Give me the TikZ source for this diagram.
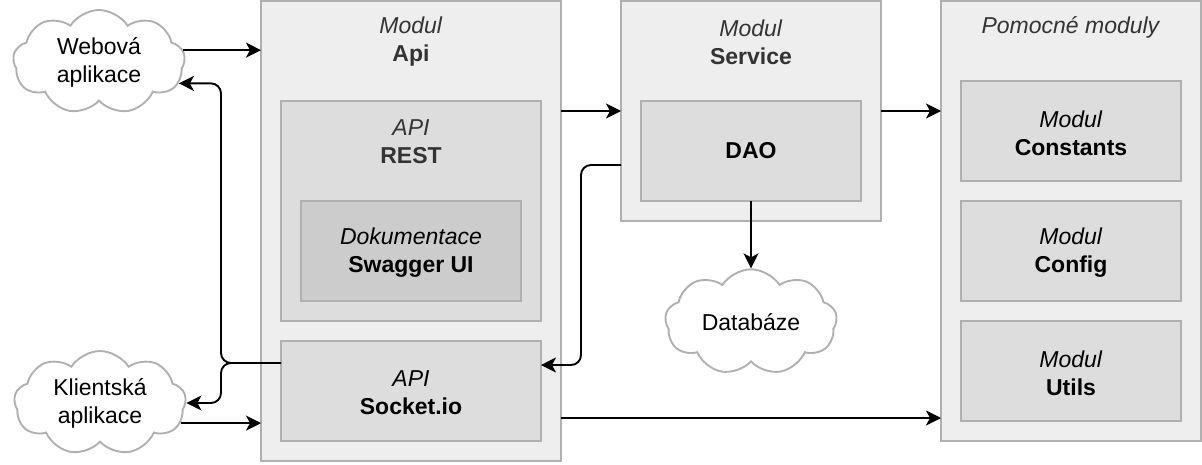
\documentclass[tikz,border=0pt]{standalone}
\usepackage{fontspec}
\setmainfont{Liberation Sans}
\usetikzlibrary{shapes.symbols,arrows.meta,calc}
\definecolor{modfill}{HTML}{EEEEEE}
\definecolor{subfill}{HTML}{DDDDDD}
\definecolor{subsubfill}{HTML}{CCCCCC}
\definecolor{edgegray}{HTML}{B0B0B0}
\definecolor{txtgray}{HTML}{333333}
\begin{document}
\begin{tikzpicture}[x=1pt,y=-1pt,
  boxbase/.style={draw=edgegray, line width=1.9pt, rectangle, inner sep=0pt, outer sep=0pt},
  modbox/.style={boxbase, fill=modfill},
  subbox/.style={boxbase, fill=subfill},
  subsubbox/.style={boxbase, fill=subsubfill},
  lbl/.style={font=\fontsize{23}{28}\selectfont, align=center, inner sep=0pt},
  glbl/.style={lbl, text=txtgray},
  conn/.style={line width=1.9pt, -{Stealth[length=15pt,width=15pt,inset=4pt]}, rounded corners=10pt},
  cloudnode/.style={cloud, cloud puffs=9, cloud puff arc=115, aspect=1.65, draw=edgegray, fill=white,
     line width=1.9pt, minimum width=172pt, minimum height=104pt, inner sep=0pt,
     font=\fontsize{23}{28}\selectfont, align=center}
]
\useasboundingbox (0,0) rectangle (1202,464);

% outer modules
\node[modbox, minimum width=300pt, minimum height=460pt] (api) at (411,231) {};
\node[modbox, minimum width=260pt, minimum height=220pt] (svc) at (751,111) {};
\node[modbox, minimum width=260pt, minimum height=440pt] (pom) at (1071,221) {};

% inner boxes
\node[subbox, minimum width=260pt, minimum height=220pt] (rest) at (411,211) {};
\node[subsubbox, minimum width=220pt, minimum height=100pt] (swag) at (411,251) {};
\node[subbox, minimum width=260pt, minimum height=100pt] (sock) at (411,391) {};
\node[subbox, minimum width=220pt, minimum height=100pt] (dao) at (751,151) {};
\node[subbox, minimum width=220pt, minimum height=100pt] (const) at (1071,131) {};
\node[subbox, minimum width=220pt, minimum height=100pt] (conf) at (1071,251) {};
\node[subbox, minimum width=220pt, minimum height=100pt] (utils) at (1071,371) {};

% labels
\node[glbl] (apiT) at (411,42) {\textit{Modul}\\\textbf{Api}};
\node[glbl] (svcT) at (751,42) {\textit{Modul}\\\textbf{Service}};
\node[glbl] (pomT) at (1071,27) {\textit{Pomocné moduly}};
\node[glbl] (restT) at (411,142) {\textit{API}\\\textbf{REST}};
\node[lbl] (swagT) at (411,253) {\textit{Dokumentace}\\\textbf{Swagger UI}};
\node[lbl] (sockT) at (411,393) {\textit{API}\\\textbf{Socket.io}};
\node[lbl] (daoT) at (751,151) {\textbf{DAO}};
\node[lbl] (constT) at (1071,133) {\textit{Modul}\\\textbf{Constants}};
\node[lbl] (confT) at (1071,253) {\textit{Modul}\\\textbf{Config}};
\node[lbl] (utilsT) at (1071,373) {\textit{Modul}\\\textbf{Utils}};

% clouds
\node[cloudnode] (web) at (99,62) {Webová\\aplikace};
\node[cloudnode] (kli) at (100,403) {Klientská\\aplikace};
\node[cloudnode] (db) at (751,322) {Databáze};

% bus coordinates
\coordinate (busL) at (221,0);
\coordinate (busR) at (581,0);
\coordinate (sj) at ($(sock.north west)+(0,22)$);
\coordinate (svcOut) at ($(svc.north west)+(0,164)$);
\coordinate (apiLow) at ($(api.east)+(0,187)$);

% connectors
\draw[conn] (web.8) -- (web.8 -| api.west);
\draw[conn] (sj) -- (sj -| busL) |- (web.-15);
\draw[conn] (sj) -- (sj -| busL) |- (kli.0);
\draw[conn] (kli.-14) -- (kli.-14 -| api.west);
\draw[conn] ($(api.north east)+(0,110)$) -- ($(svc.north west)+(0,110)$);
\draw[conn] ($(svc.north east)+(0,110)$) -- ($(pom.north west)+(0,110)$);
\draw[conn] (svcOut) -- (svcOut -| busR) |- ($(sock.north east)+(0,24)$);
\draw[conn] (dao.south) -- (db.north);
\draw[conn] (apiLow) -- (apiLow -| pom.west);
\end{tikzpicture}
\end{document}
